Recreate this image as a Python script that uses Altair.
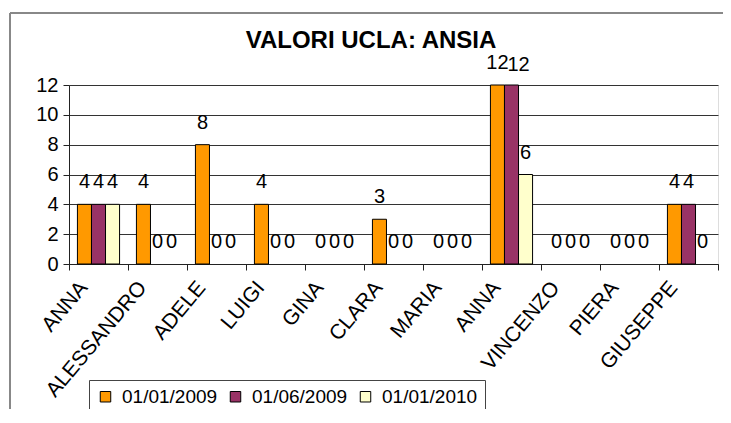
import altair as alt
import pandas as pd

title_text = "VALORI UCLA: ANSIA"
names = ["ANNA", "ALESSANDRO", "ADELE", "LUIGI", "GINA", "CLARA", "MARIA",
         "ANNA", "VINCENZO", "PIERA", "GIUSEPPE"]
series = ["01/01/2009", "01/06/2009", "01/01/2010"]
val_2009_01 = [4, 4, 8, 4, 0, 3, 0, 12, 0, 0, 4]
val_2009_06 = [4, 0, 0, 0, 0, 0, 0, 12, 0, 0, 4]
val_2010_01 = [4, 0, 0, 0, 0, 0, 0, 6, 0, 0, 0]
colors = ["#FF9900", "#993366", "#FFFFCC"]
y_ticks = [0, 2, 4, 6, 8, 10, 12]

keys = [str(i) for i in range(len(names))]
rows = []
for i, n in enumerate(names):
    for s, vals in zip(series, [val_2009_01, val_2009_06, val_2010_01]):
        rows.append({"k": keys[i], "nome": n, "serie": s, "valore": vals[i]})
df = pd.DataFrame(rows)

FONT = "Liberation Sans"
label_expr = "[" + ",".join("'" + n + "'" for n in names) + "][toNumber(datum.value)]"

x = alt.X("k:N", sort=keys,
          scale=alt.Scale(paddingInner=0, paddingOuter=0),
          axis=alt.Axis(title=None, labelExpr=label_expr, labelAngle=-50,
                        labelFont=FONT, labelFontSize=21, labelColor="#000",
                        tickBand="extent", tickSize=6, tickColor="#222",
                        domainColor="#222", labelPadding=14, labelOffset=-15))
xo = alt.XOffset("serie:N", sort=series,
                 scale=alt.Scale(paddingInner=0, paddingOuter=0.6))
y = alt.Y("valore:Q", scale=alt.Scale(domain=[0, 12], nice=False),
          axis=alt.Axis(title=None, values=y_ticks, grid=True, gridColor="#333",
                        gridWidth=1, tickSize=6, tickColor="#222", domainColor="#222",
                        labelFont=FONT, labelFontSize=20, labelColor="#000",
                        labelPadding=5))

color = alt.Color("serie:N", sort=series,
                  scale=alt.Scale(domain=series, range=colors),
                  legend=alt.Legend(title=None, orient="none", legendX=20, legendY=295,
                                    direction="horizontal", symbolType="square",
                                    symbolSize=110, symbolStrokeColor="black",
                                    symbolStrokeWidth=1, labelFont=FONT,
                                    labelFontSize=19, labelColor="#000",
                                    strokeColor="#444", fillColor="white",
                                    padding=7, columnPadding=8, labelOffset=7))

bars = alt.Chart(df).mark_bar(stroke="black", strokeWidth=1).encode(
    x=x, xOffset=xo, y=y, color=color,
    strokeOpacity=alt.condition("datum.valore == 0", alt.value(0), alt.value(1)))

shift_cond = "datum.valore >= 10 && datum.serie == '" + series[1] + "'"
labels = alt.Chart(df).transform_filter("!(" + shift_cond + ")").mark_text(
    dy=-22, fontSize=20, font=FONT, color="#000", baseline="middle").encode(
    x=x, xOffset=xo, y=y, text="valore:Q")
labels_shift = alt.Chart(df).transform_filter(shift_cond).mark_text(
    dy=-20, dx=-4, align="left", fontSize=20, font=FONT, color="#000",
    baseline="middle").encode(x=x, xOffset=xo, y=y, text="valore:Q")

frame_df = pd.DataFrame({"a": [0]})
left_border = alt.Chart(frame_df).mark_rule(color="#888", strokeWidth=2).encode(
    x=alt.value(-59), y=alt.value(-72), y2=alt.value(330))
top_border = alt.Chart(frame_df).mark_rule(color="#888", strokeWidth=2).encode(
    x=alt.value(-59), x2=alt.value(660), y=alt.value(-72))
title_mark = alt.Chart(frame_df).mark_text(
    text=title_text, font=FONT, fontSize=24, fontWeight="bold", color="#000",
    align="center", baseline="middle").encode(x=alt.value(302), y=alt.value(-44))

chart = alt.layer(bars, labels, labels_shift, left_border, top_border,
                  title_mark).properties(
    width=649, height=179,
    autosize=alt.AutoSizeParams(type="none"),
    padding={"left": 61, "top": 77, "right": 5, "bottom": 145},
).configure_view(fill="#CCFFFF", stroke="#666").configure(background="white")

chart.save("out.html", embed_options={"renderer": "svg", "actions": False})
